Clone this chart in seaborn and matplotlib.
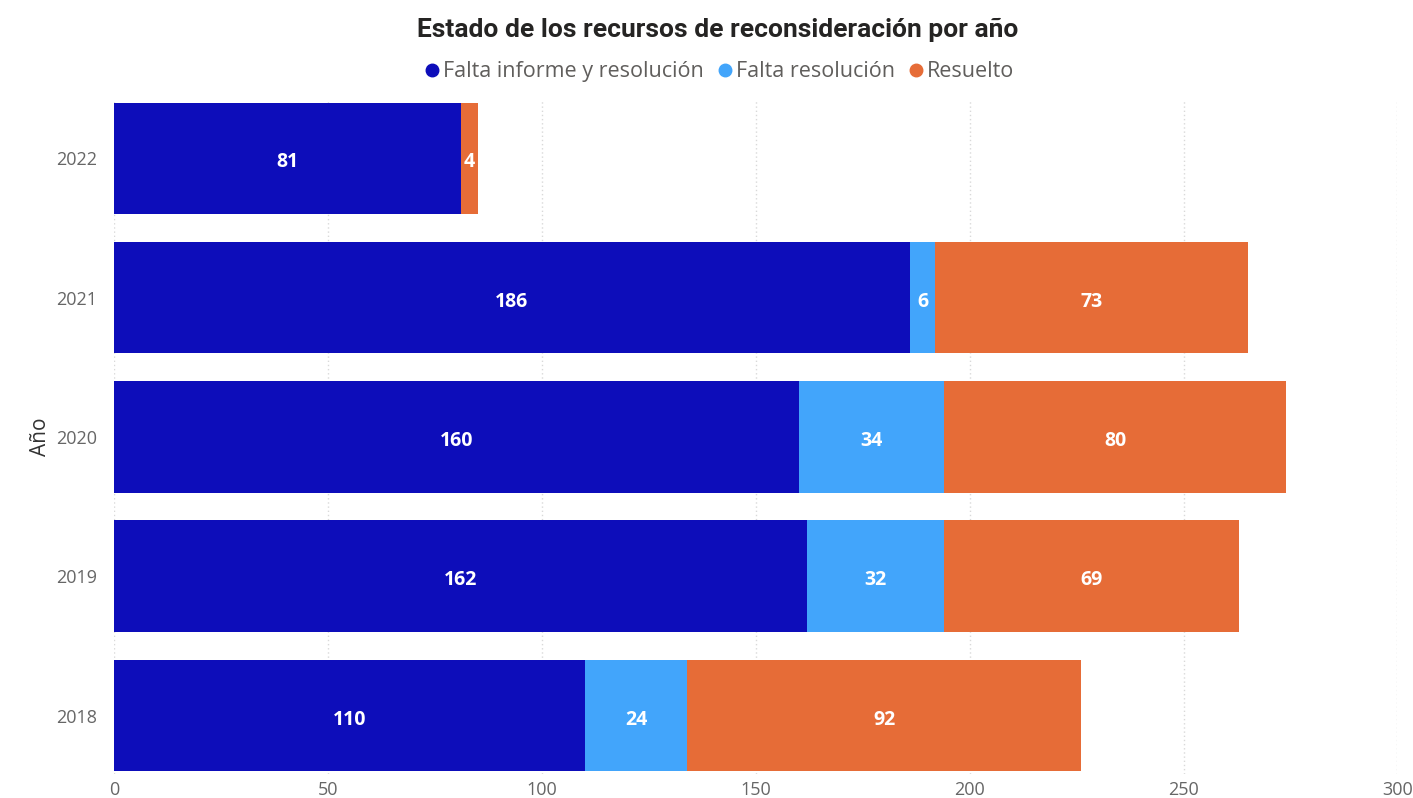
import matplotlib
matplotlib.use("Agg")
import matplotlib.pyplot as plt
from matplotlib.lines import Line2D
import seaborn as sns
import pandas as pd
import numpy as np

years = ["2022", "2021", "2020", "2019", "2018"]
series_names = ["Falta informe y resolución", "Falta resolución", "Resuelto"]
falta_informe = [81, 186, 160, 162, 110]
falta_resolucion = [0, 6, 34, 32, 24]
resuelto = [4, 73, 80, 69, 92]
colors = ["#0D0DBA", "#42A5FB", "#E66C37"]

sns.set_theme(style="white")
plt.rcParams["font.family"] = ["Open Sans", "DejaVu Sans"]

df = pd.DataFrame({
    "Año": years,
    series_names[0]: falta_informe,
    series_names[1]: falta_resolucion,
    series_names[2]: resuelto,
})
values = df[series_names].to_numpy(dtype=float)
cum = np.cumsum(values, axis=1)

fig = plt.figure(figsize=(14.13, 7.98), dpi=100)
ax = fig.add_axes([0.0807, 0.030, 0.9083, 0.845])

# draw stacked bars: largest cumulative first
for i in reversed(range(len(series_names))):
    sns.barplot(x=cum[:, i], y=df["Año"], order=years, orient="h",
                color=colors[i], width=0.8, saturation=1, ax=ax,
                edgecolor="none", linewidth=0)

# labels
for r, yr in enumerate(years):
    for i in range(len(series_names)):
        v = values[r, i]
        if v <= 0:
            continue
        start = cum[r, i] - v
        ax.text(start + v / 2, r + 0.03, f"{int(v)}", ha="center", va="center",
                color="white", fontsize=14, fontweight="bold")

ax.set_xlim(0, 300)
ax.set_ylim(4.42, -0.42)
ax.set_xticks(np.arange(0, 301, 50))
ax.grid(axis="x", linestyle=(0, (1, 2)), color="#D9D9D9", linewidth=1)
ax.set_axisbelow(True)
for s in ax.spines.values():
    s.set_visible(False)
ax.tick_params(axis="both", length=0, colors="#666666", labelsize=13)
ax.tick_params(axis="x", pad=5)
ax.tick_params(axis="y", pad=12)
ax.set_xlabel("")
ax.set_ylabel("Año", fontsize=15, color="#333333", labelpad=4)

fig.text(0.508, 0.962, "Estado de los recursos de reconsideración por año",
         ha="center", va="center", fontsize=19, fontweight="bold",
         color="#252423", family=["Roboto", "DejaVu Sans"])

handles = [Line2D([0], [0], marker="o", linestyle="none", markersize=9,
                  markerfacecolor=c, markeredgecolor=c) for c in colors]
fig.legend(handles, series_names, loc="center", bbox_to_anchor=(0.508, 0.91),
           ncol=3, frameon=False, handletextpad=0.0, columnspacing=0.5,
           fontsize=15.5, labelcolor="#605E5C", handlelength=1.0)

fig.savefig("out.png", dpi=100)
